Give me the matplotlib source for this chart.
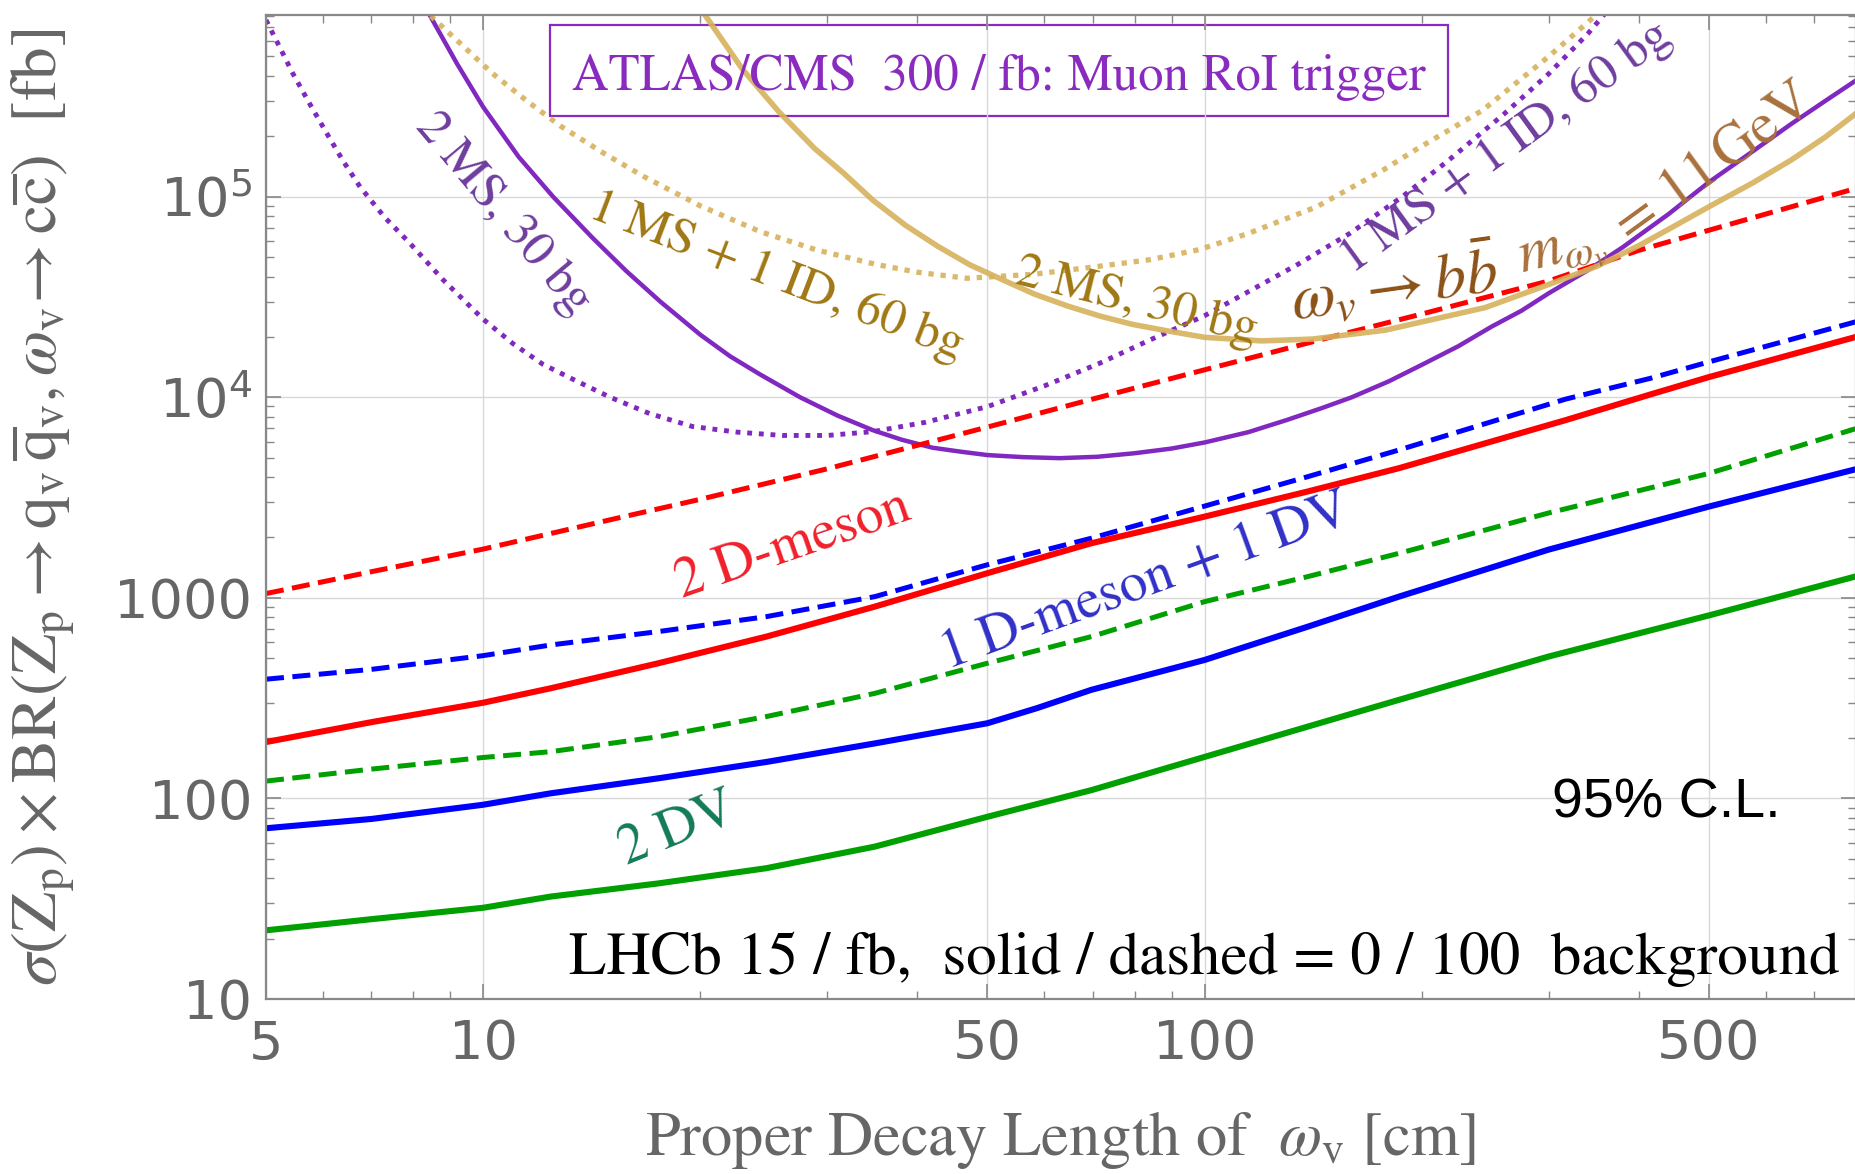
import matplotlib
matplotlib.use("Agg")
import matplotlib.pyplot as plt
from matplotlib.ticker import FixedLocator, FixedFormatter, NullFormatter
from matplotlib.patches import Rectangle

# ---- LHCb curves, x = proper decay length [cm], y = sigma x BR [fb]
dv2_x = [5, 7, 10, 12.4, 17.5, 24.7, 34.9, 50, 69.7, 100, 139, 186, 300, 500, 800]
dv2_y = [22, 25, 28.5, 32.4, 37.7, 44.9, 57.5, 81, 110, 161, 228, 310, 510, 817, 1280]
dv2_bg_y = [122, 140, 160, 171, 203, 256, 334, 472, 641, 957, 1276, 1667, 2650, 4170, 6980]

dm_dv_x = [5, 7, 10, 12.4, 17.5, 24.7, 34.9, 50, 58.6, 69.7, 100, 139, 186, 300, 500, 800]
dm_dv_y = [71, 79, 93, 106, 126, 152, 188, 237, 282, 348, 490, 718, 1014, 1740, 2850, 4380]

lhcb_x = [5, 7, 10, 12.4, 17.5, 24.7, 34.9, 50, 69.7, 100, 139, 186, 317, 414, 500, 800]
dm_dv_bg_y = [393, 440, 515, 582, 679, 806, 1014, 1462, 1983, 2866, 4018, 5460, 9800, 12400, 15000, 23800]
dm2_y = [191, 240, 300, 354, 472, 641, 904, 1327, 1872, 2540, 3390, 4430, 7700, 10300, 12600, 20000]

dm2_bg_x = [5, 7, 10, 15, 20, 30, 50, 70, 100, 150, 200, 300, 400, 500, 800]
dm2_bg_y = [1050, 1350, 1750, 2450, 3100, 4400, 7100, 9800, 13700, 20000, 26000, 38000, 54000, 68000, 110000]

# ---- ATLAS/CMS curves
atl_2ms_x = [8.2, 8.43, 9.2, 10, 11.2, 12.5, 14.2, 15.8, 17.6, 20, 22, 24.2, 27.5, 31, 34.7, 38,
             42, 46, 50, 56, 63, 71, 80, 90, 100, 115, 130, 145, 160, 180, 200, 225, 250, 275,
             300, 340, 380, 440, 500, 575, 650, 725, 800]
atl_2ms_y = [9.5e5, 8.05e5, 4.6e5, 2.8e5, 1.58e5, 1.0e5, 6.2e4, 4.25e4, 3.0e4, 2.05e4, 1.6e4,
             1.3e4, 1.0e4, 8100, 6850, 6150, 5600, 5350, 5150, 5030, 4970, 5050, 5260, 5550,
             5950, 6700, 7700, 8800, 10000, 12000, 14500, 18000, 22500, 27000, 33000, 43000,
             56000, 82000, 118000, 168000, 230000, 300000, 380000]

atl_1ms_x = [5, 5.2, 5.45, 5.75, 6.07, 6.4, 6.75, 7.3, 7.9, 8.8, 10, 11, 12.1, 13.5, 15, 17,
             19.5, 22.5, 26, 30, 34.7, 41, 50, 60, 71.5, 84, 100, 115, 135, 159, 188, 218, 260,
             300, 340, 370]
atl_1ms_y = [7.6e5, 5.75e5, 4.1e5, 2.9e5, 2.07e5, 1.5e5, 1.12e5, 7.9e4, 5.9e4, 3.85e4, 2.45e4,
             1.85e4, 1.46e4, 1.2e4, 1.0e4, 8300, 7150, 6700, 6450, 6450, 6740, 7500, 8980,
             11400, 14760, 19300, 25500, 33600, 46200, 65600, 1.0e5, 1.52e5, 2.58e5, 4.1e5,
             6.5e5, 9.3e5]

bb_1ms_x = [8.3, 8.43, 9.3, 10.3, 11.5, 12.8, 14.6, 16.7, 20, 24.2, 29, 35, 40, 46.8, 57.8,
            71.5, 84, 98.4, 115, 143, 177, 196, 243, 300, 349, 360]
bb_1ms_y = [9e5, 8.05e5, 5.8e5, 4.12e5, 3.0e5, 2.25e5, 1.67e5, 1.26e5, 9.0e4, 6.7e4, 5.42e4,
            4.6e4, 4.2e4, 3.92e4, 4.1e4, 4.5e4, 4.85e4, 5.45e4, 6.56e4, 8.9e4, 1.36e5, 1.71e5,
            2.7e5, 5.0e5, 8.05e5, 9e5]

bb_2ms_x = [19.8, 20.3, 22.9, 25.7, 28.8, 31.6, 34.7, 38.5, 42.7, 47.3, 52.5, 58.2, 64.6, 71.6,
            79.4, 89, 100, 120, 141, 178, 245, 300, 350, 400, 450, 500, 575, 650, 725, 800]
bb_2ms_y = [9.7e5, 8.05e5, 4.3e5, 2.65e5, 1.74e5, 1.31e5, 9.6e4, 7.2e4, 5.65e4, 4.57e4, 3.85e4,
            3.26e4, 2.85e4, 2.54e4, 2.31e4, 2.14e4, 1.99e4, 1.91e4, 1.95e4, 2.16e4, 2.8e4,
            3.65e4, 4.5e4, 5.7e4, 7.2e4, 8.9e4, 1.17e5, 1.52e5, 1.98e5, 2.6e5]

xticks = [5, 10, 50, 100, 500]
xtick_labels = ["5", "10", "50", "100", "500"]
yticks = [10, 100, 1000, 1e4, 1e5]
ytick_labels = ["10", "100", "1000", "$10^4$", "$10^5$"]

RED, BLUE, GREEN = "#ff0000", "#0000ff", "#00a000"
PURPLE, GOLD = "#8028c0", "#d6b25c"
SERIF = "STIXGeneral"

fig = plt.figure(figsize=(18.56, 11.74), dpi=100)
ax = fig.add_axes([266 / 1856, 1 - 999 / 1174, 1590 / 1856, 984 / 1174])
ax.set_xscale("log")
ax.set_yscale("log")

dash = (0, (3.6, 1.7))

ax.plot(atl_1ms_x, atl_1ms_y, color=PURPLE, lw=3.5, ls=(0, (1, 1.4)))
ax.plot(atl_2ms_x, atl_2ms_y, color=PURPLE, lw=3.2)

ax.plot(dm2_bg_x, dm2_bg_y, color=RED, lw=3.6, ls=dash)
ax.plot(lhcb_x, dm_dv_bg_y, color=BLUE, lw=3.6, ls=dash)
ax.plot(dv2_x, dv2_bg_y, color=GREEN, lw=3.6, ls=dash)
ax.plot(lhcb_x, dm2_y, color=RED, lw=4.4)
ax.plot(dm_dv_x, dm_dv_y, color=BLUE, lw=4.4)
ax.plot(dv2_x, dv2_y, color=GREEN, lw=4.4)

ax.plot(bb_1ms_x, bb_1ms_y, color=GOLD, lw=3.8, ls=(0, (1, 1.3)), alpha=0.9)
ax.plot(bb_2ms_x, bb_2ms_y, color=GOLD, lw=4.0, alpha=0.9)

ax.set_xlim(5, 800)
ax.set_ylim(10, 8.05e5)

ax.xaxis.set_major_locator(FixedLocator(xticks))
ax.xaxis.set_major_formatter(FixedFormatter(xtick_labels))
ax.xaxis.set_minor_locator(FixedLocator([6, 7, 8, 9, 20, 30, 40, 60, 70, 80, 90,
                                         200, 300, 400, 600, 700]))
ax.xaxis.set_minor_formatter(NullFormatter())
ax.yaxis.set_major_locator(FixedLocator(yticks))
ax.yaxis.set_major_formatter(FixedFormatter(ytick_labels))
ax.yaxis.set_minor_locator(FixedLocator([m * 10 ** k for k in range(1, 6) for m in range(2, 10)]))
ax.yaxis.set_minor_formatter(NullFormatter())

ax.tick_params(which="both", direction="in", top=True, right=True, color="#888888",
               labelcolor="#666666", labelsize=39)
ax.tick_params(which="major", length=11, width=1.2)
ax.tick_params(which="minor", length=5.5, width=1.0)
ax.tick_params(axis="x", pad=14)
ax.tick_params(axis="y", pad=10)
for s in ax.spines.values():
    s.set_color("#888888")
    s.set_linewidth(1.6)
ax.grid(True, which="major", color="#d8d8d8", lw=1.0)

ax.set_xlabel(r"Proper Decay Length of  $\omega_\mathrm{v}$ [cm]", fontfamily=SERIF,
              fontsize=45, color="#666666", math_fontfamily="stix")
ax.xaxis.set_label_coords(0.5, -0.112)
ax.set_ylabel(r"$\sigma(\mathrm{Z_p})\times\mathrm{BR}(\mathrm{Z_p}\rightarrow\mathrm{q_v}\,"
              r"\overline{\mathrm{q}}_\mathrm{v},\omega_\mathrm{v}\!\rightarrow\mathrm{c}"
              r"\overline{\mathrm{c}})\ \ [\mathrm{fb}]$",
              fontsize=47, color="#666666", math_fontfamily="stix")
ax.yaxis.set_label_coords(-0.118, 0.5)

# annotations
ax.add_patch(Rectangle((0.1786, 0.8974), 0.5648, 0.0924, transform=ax.transAxes,
                       fill=False, edgecolor="#8a2bbf", lw=1.6))
ax.text(0.461, 0.936, "ATLAS/CMS  300 / fb: Muon RoI trigger", transform=ax.transAxes,
        ha="center", va="center", fontfamily=SERIF, fontsize=36.5, color="#8a2bbf")

ax.text(0.59, 0.0254, "LHCb 15 / fb,  solid / dashed = 0 / 100  background",
        transform=ax.transAxes, ha="center", va="baseline", fontfamily=SERIF,
        fontsize=44, color="black")
ax.text(0.8805, 0.199, "95% C.L.", transform=ax.transAxes, ha="center", va="center",
        fontfamily="Liberation Sans", fontsize=40, color="black")

lab = dict(ha="center", va="center", rotation_mode="anchor", fontfamily=SERIF, fontsize=36)
ax.text(10.65, 8.2e4, "2 MS, 30 bg", rotation=-50, color="#6e3d9e", **lab)
ax.text(25.5, 3.98e4, "1 MS + 1 ID, 60 bg", rotation=-21, color="#a07814", **lab)
ax.text(80.4, 2.99e4, "2 MS, 30 bg", rotation=-14, color="#a07814", **lab)
ax.text(262, 1.75e5, "1 MS + 1 ID, 60 bg", rotation=36, color="#6e3d9e", **lab)
lab["fontsize"] = 46
ax.text(183, 3.62e4, r"$\omega_v\rightarrow b\bar{b}$", rotation=8, color="#8b5217",
        math_fontfamily="stix", **lab)
lab["fontsize"] = 44
ax.text(313, 5.3e4, r"$m_{\omega_v}$", rotation=14, color="#a8703c",
        math_fontfamily="stix", **lab)
lab["fontsize"] = 42
ax.text(505, 1.42e5, r"$=\,11\,\mathrm{GeV}$", rotation=36, color="#a8703c",
        math_fontfamily="stix", **lab)
lab["fontsize"] = 40
ax.text(26.9, 1835, "2 D-meson", rotation=19, color="#f0202a", **lab)
ax.text(82.8, 1200, "1 D-meson + 1 DV", rotation=20, color="#3030c8", **lab)
ax.text(18.6, 69.8, "2 DV", rotation=22, color="#137a5a", **lab)

fig.savefig("out.png", dpi=100)
